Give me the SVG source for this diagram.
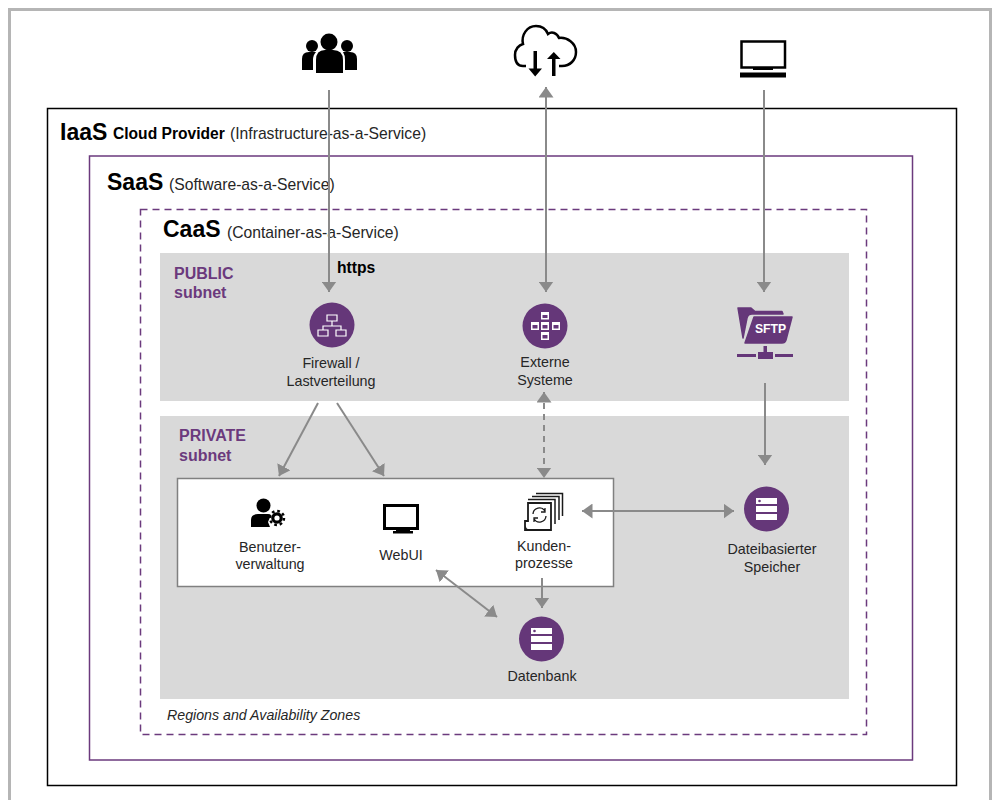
<svg xmlns="http://www.w3.org/2000/svg" width="998" height="800" viewBox="0 0 998 800">
<style>
text{font-family:"Liberation Sans",Arial,sans-serif;fill:#262626}
.l{font-size:14.300px;text-anchor:middle}
.h{font-size:23px;font-weight:bold;fill:#000}
.s{font-size:15.700px}
.p{font-size:16px;font-weight:bold;fill:#6b3a7d}
.c{stroke:#8a8a8a;stroke-width:2;fill:none}
.d{fill:#653779}
.w{fill:none;stroke:#fff;stroke-width:1.200}
.f{fill:#fff}
.k{fill:#000}
.o{fill:none;stroke:#000}
</style>
<defs>
<marker id="a" viewBox="0 0 11 15" refX="10.500" refY="7.500" markerWidth="11" markerHeight="15" markerUnits="userSpaceOnUse" orient="auto-start-reverse"><path d="M0 0L10.500 7.500L0 15Z" fill="#8a8a8a"/></marker>
<g id="db"><circle r="22.500" class="d"/><path class="f" d="M-10.500-11H10.500V-5H-10.500ZM-10.500-3H10.500V3H-10.500ZM-10.500 5H10.500V11H-10.500Z"/><circle cx="-7" cy="-8" r="1.300" class="d"/></g>
</defs>
<rect id="frame" x="9.500" y="9.500" width="981" height="800" fill="#fff" stroke="#b5b5b5" stroke-width="3"/>
<g id="iaas"><rect x="47.500" y="108.500" width="909" height="677" fill="#fff" stroke="#000" stroke-width="1.500"/>
<text x="60" y="140" class="h">IaaS</text><text x="113" y="139" style="font-size:15.600px;font-weight:bold;fill:#000">Cloud Provider</text><text x="230" y="139" class="s">(Infrastructure-as-a-Service)</text></g>
<g id="saas"><rect x="89.500" y="156" width="823" height="604" fill="#fff" stroke="#6b3a7d" stroke-width="1.500"/>
<text x="107" y="190" class="h">SaaS</text><text x="169" y="190" class="s">(Software-as-a-Service)</text></g>
<g id="caas"><rect x="140.500" y="209.500" width="726" height="525" fill="#fff" stroke="#6b3a7d" stroke-width="1.500" stroke-dasharray="7 5"/>
<text x="163" y="237" class="h">CaaS</text><text x="227" y="238" class="s">(Container-as-a-Service)</text>
<text x="167" y="720" style="font-size:14.200px;font-style:italic">Regions and Availability Zones</text></g>
<g id="public"><rect x="160" y="253" width="689" height="148" fill="#d9d9d9"/>
<text x="174" y="279" class="p">PUBLIC</text><text x="174" y="298" class="p">subnet</text><text x="337" y="273" style="font-size:15.700px;font-weight:bold;fill:#000">https</text></g>
<g id="private"><rect x="160" y="416" width="689" height="283" fill="#d9d9d9"/>
<text x="179" y="441" class="p">PRIVATE</text><text x="179" y="461" class="p">subnet</text></g>
<rect id="group" x="177.500" y="478.500" width="436" height="108" fill="#fff" stroke="#808080" stroke-width="1.500"/>
<g id="connectors">
<path class="c" marker-end="url(#a)" d="M329 90V292"/>
<path class="c" marker-start="url(#a)" marker-end="url(#a)" d="M546 87V292"/>
<path class="c" marker-end="url(#a)" d="M764 90V292"/>
<path class="c" marker-end="url(#a)" d="M318 403L279 476"/>
<path class="c" marker-end="url(#a)" d="M337 403L384 476"/>
<path class="c" stroke-dasharray="6 5" marker-start="url(#a)" marker-end="url(#a)" d="M544 392V478"/>
<path class="c" marker-end="url(#a)" d="M765 383V465"/>
<path class="c" marker-start="url(#a)" marker-end="url(#a)" d="M582 511H734"/>
<path class="c" marker-end="url(#a)" d="M542 578V608"/>
<path class="c" marker-start="url(#a)" marker-end="url(#a)" d="M436 570L497 617"/>
</g>
<g id="users"><circle cx="329" cy="42" r="8.500" class="k"/><circle cx="312" cy="46" r="6" class="k"/><circle cx="347" cy="46" r="6" class="k"/>
<path class="k" d="M316 73V60Q316 50 325 50H333Q343 50 343 60V73ZM302 70V59Q302 52 309 52H316Q313 55 313 60V70ZM357 70V59Q357 52 350 52H343Q345 55 345 60V70Z"/></g>
<g id="cloud"><path class="o" stroke-width="2.500" d="M526 66H523C516 66 515 60 515 55C515 49 519 45 523 44C521 35 527 26 536 26C542 26 546 29 548 34C552 31 557 33 559 38C567 37 576 43 576 52C576 60 570 66 562 66H559"/>
<path class="k" d="M533.500 51H537V68.500H542L535.200 76.500L528.500 68.500H533.500ZM552 76H555.500V59H560.500L553.800 52L547 59H552Z"/></g>
<g id="monitor"><rect x="741.500" y="41.500" width="43.500" height="26" fill="#fff" stroke="#000" stroke-width="2.500"/><path class="k" d="M753 67H773V70H753ZM740 72.500H786V77.500H740Z"/></g>
<g id="firewall"><circle cx="332" cy="325" r="22.500" class="d"/><path class="w" d="M327 315H337V321H327ZM318 330H328V336H318ZM336 330H346V336H336ZM332 321V326M323 330V326H341V330"/>
<text x="331" y="368" class="l">Firewall /</text><text x="331" y="386" class="l">Lastverteilung</text></g>
<g id="extern"><circle cx="545" cy="326" r="22.500" class="d"/><path class="f" d="M541 312H549V319.500H541ZM541 322H549V330H541ZM541 332H549V340H541ZM531 322H539V330H531ZM552 322H560V330H552Z"/><path fill="#653779" d="M542.500 315H547.500V318H542.500ZM542.500 325H547.500V328.500H542.500ZM542.500 335H547.500V338.500H542.500ZM532.500 325H537.500V328.500H532.500ZM553.500 325H558.500V328.500H553.500Z"/>
<text x="545" y="367" class="l">Externe</text><text x="545" y="385" class="l">Systeme</text></g>
<g id="sftp"><path class="d" stroke="#653779" stroke-width="1.500" stroke-linejoin="round" d="M738 308H751L755 311.500H782L783 314H752Q748 314 747 318L743 338Z"/><path class="d" stroke="#653779" stroke-width="1.500" stroke-linejoin="round" d="M754 317H792L786 340Q785 343 782 343H745Z"/><path class="d" d="M763.500 346H767V352H773V359H758V352H763.500ZM737 354H756V357H737ZM775 354H793V357H775Z"/>
<text x="770.500" y="333" style="font-size:12.200px;font-weight:bold;fill:#fff;text-anchor:middle">SFTP</text></g>
<g id="user-admin"><circle cx="263.500" cy="505.500" r="7" class="k"/><path class="k" d="M251 527V520Q251 514 258 514H268Q270 514 271 515L268 522L270 527Z"/><circle cx="277" cy="518" r="5.800" class="k"/><circle cx="277" cy="518" r="7" fill="none" stroke="#000" stroke-width="2.500" stroke-dasharray="2.700 2.800"/><circle cx="277" cy="518" r="2.600" fill="#fff"/>
<text x="270" y="552" class="l">Benutzer-</text><text x="270" y="569" class="l">verwaltung</text></g>
<g id="webui"><rect x="384.500" y="505.500" width="33" height="23" fill="#fff" stroke="#000" stroke-width="3"/><path class="k" d="M396 530H410V531H413V533.500H393V531H396Z"/>
<text x="401" y="560" class="l">WebUI</text></g>
<g id="kunden"><path fill="#fff" stroke="#1a1a1a" stroke-width="1.500" d="M536 493.500H562.500V516M532 496.500H559V520M528 499.500H555V524"/><path fill="#fff" stroke="#1a1a1a" stroke-width="1.800" d="M528 503H551V530H525V521H528ZM525 521V526Q525 530 529 530"/><path fill="none" stroke="#1a1a1a" stroke-width="1.300" d="M533 514A6.500 6.500 0 0 1 545 511M546 516A6.500 6.500 0 0 1 534 519M545 508V512H541M534 522V518H538"/>
<text x="544" y="551" class="l">Kunden-</text><text x="544" y="568" class="l">prozesse</text></g>
<g id="speicher"><use href="#db" x="766.500" y="509"/><text x="772" y="554" class="l">Dateibasierter</text><text x="772" y="572" class="l">Speicher</text></g>
<g id="datenbank"><use href="#db" x="541.500" y="639"/><text x="542" y="681" class="l">Datenbank</text></g>
</svg>
